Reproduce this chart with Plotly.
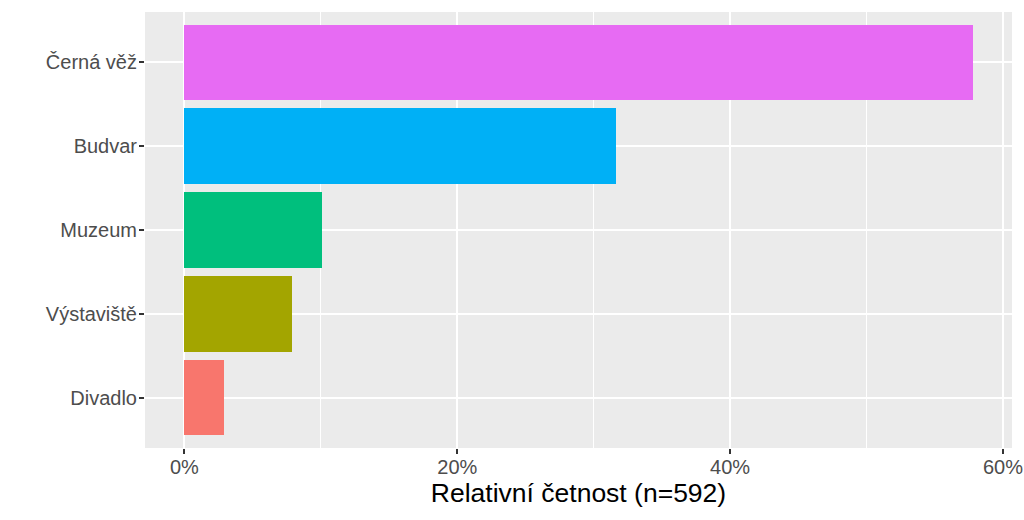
import plotly.graph_objects as go

# categories bottom -> top, as drawn
places = ["Divadlo", "Výstaviště", "Muzeum", "Budvar", "Černá věž"]
share_pct = [2.9, 7.9, 10.1, 31.6, 57.8]
bar_colors = ["#F8766D", "#A3A500", "#00BF7D", "#00B0F6", "#E76BF3"]
x_ticks = [0, 20, 40, 60]
x_labels = ["0%", "20%", "40%", "60%"]

fig = go.Figure()
fig.add_trace(go.Bar(
    x=share_pct, y=places, orientation="h",
    marker=dict(color=bar_colors, line=dict(width=0)),
    width=0.9, showlegend=False, hoverinfo="x+y",
))

fig.update_layout(
    width=1024, height=520,
    margin=dict(l=145, r=12, t=12, b=72),
    paper_bgcolor="white", plot_bgcolor="#EBEBEB",
    font=dict(family="Liberation Sans, Arial, sans-serif", color="#4D4D4D"),
    bargap=0,
)
fig.update_xaxes(
    range=[-2.89, 60.66], tickvals=x_ticks, ticktext=x_labels,
    showgrid=True, gridcolor="white", gridwidth=2,
    minor=dict(dtick=10, tick0=0, showgrid=True, gridcolor="white", gridwidth=1),
    zeroline=False, showline=False, automargin=False,
    ticks="outside", ticklen=5, tickwidth=1.5, tickcolor="#333333",
    ticklabelstandoff=-4, ticklabeloverflow="allow",
    tickfont=dict(size=20, color="#4D4D4D"),
    title=dict(text="Relativní četnost (n=592)", font=dict(size=26.5, color="black"), standoff=0),
)
fig.update_yaxes(
    range=[-0.6, 4.6], categoryorder="array", categoryarray=places,
    showgrid=True, gridcolor="white", gridwidth=2,
    zeroline=False, showline=False, automargin=False,
    ticks="outside", ticklen=5, tickwidth=1.5, tickcolor="#333333",
    ticklabelstandoff=-2,
    tickfont=dict(size=20, color="#4D4D4D"),
)

# drop the default 8px body margin so the 1024x520 figure fills the window
fig.write_html(
    "out.html",
    config={"displayModeBar": False},
    post_script="document.body.style.margin = '0';",
)
